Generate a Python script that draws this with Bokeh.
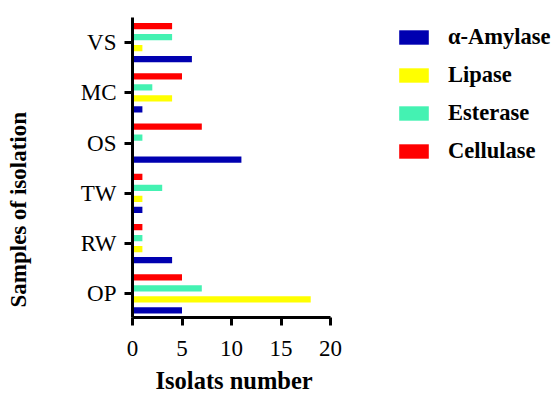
from bokeh.plotting import figure
from bokeh.models import Range1d, FixedTicker, Legend, LegendItem, ColumnDataSource, Title
from bokeh.transform import dodge
from bokeh.embed import file_html
from bokeh.resources import INLINE

samples = ["OP", "RW", "TW", "OS", "MC", "VS"]
amylase = [5, 4, 1, 11, 1, 6]
lipase = [18, 1, 1, 0, 4, 1]
esterase = [7, 1, 3, 1, 2, 4]
cellulase = [5, 1, 1, 7, 5, 4]
series_names = ["α-Amylase", "Lipase", "Esterase", "Cellulase"]
series_colors = ["#0000B0", "#FFFF00", "#44F2B2", "#FF0000"]
x_ticks = [0, 5, 10, 15, 20]
x_label = "Isolats number"
y_label = "Samples of isolation"

FONT = "Liberation Serif"

src = ColumnDataSource(dict(
    pos=list(range(len(samples))),
    amylase=amylase, lipase=lipase, esterase=esterase, cellulase=cellulase,
))

# frame extends to the right edge so the legend (drawn inside it) is not clipped;
# the x axis itself is bounded to 0..20
p = figure(width=552, height=403, output_backend="svg", toolbar_location=None,
           x_range=Range1d(0, 42.42), y_range=Range1d(-0.47, 5.5),
           min_border_left=132, min_border_right=0, min_border_top=17,
           min_border_bottom=86)

offsets = [-0.33, -0.11, 0.11, 0.33]
keys = ["amylase", "lipase", "esterase", "cellulase"]
renderers = []
for key, off, col in zip(keys, offsets, series_colors):
    r = p.hbar(y=dodge("pos", off), right=key, left=0, height=0.125,
               source=src, fill_color=col, line_color=None)
    renderers.append(r)

p.xgrid.grid_line_color = None
p.ygrid.grid_line_color = None
p.outline_line_color = None
p.background_fill_color = "white"
p.border_fill_color = "white"

p.xaxis.ticker = FixedTicker(ticks=x_ticks)
p.xaxis.bounds = (0, 20)
p.yaxis.ticker = FixedTicker(ticks=list(range(len(samples))))
p.yaxis.major_label_overrides = {i: s for i, s in enumerate(samples)}

for ax in (p.xaxis[0], p.yaxis[0]):
    ax.axis_line_width = 3
    ax.axis_line_color = "black"
    ax.major_tick_line_width = 3
    ax.major_tick_line_color = "black"
    ax.major_tick_out = 8
    ax.major_tick_in = 0
    ax.minor_tick_line_color = None
    ax.major_label_text_font = FONT
    ax.major_label_text_font_size = "23px"
    ax.major_label_text_color = "black"

p.xaxis.major_label_standoff = 15
p.yaxis.major_label_standoff = 8
# spacing between the y tick labels and the y title
p.yaxis.axis_label = " "
p.yaxis.axis_label_text_font_size = "1px"
p.yaxis.axis_label_standoff = 41

xt = Title(text=x_label, align="left", offset=23, vertical_align="top",
           standoff=16, text_font=FONT, text_font_size="24.5px",
           text_font_style="bold", text_color="black")
p.add_layout(xt, "below")

yt = Title(text=y_label, align="left", offset=10, vertical_align="top",
           standoff=0, text_font=FONT, text_font_size="23px",
           text_font_style="bold", text_color="black")
p.add_layout(yt, "left")

items = [LegendItem(label=n, renderers=[r]) for n, r in zip(series_names, renderers)]
legend = Legend(items=items, location=(263, 153), padding=0, margin=0,
                glyph_width=37, glyph_height=18, label_height=13,
                spacing=12, label_standoff=16,
                label_text_font=FONT, label_text_font_size="22.5px",
                label_text_font_style="bold", label_text_color="black",
                border_line_color=None, background_fill_alpha=0)
p.add_layout(legend, "center")

open("out.html", "w").write(file_html(p, INLINE))
